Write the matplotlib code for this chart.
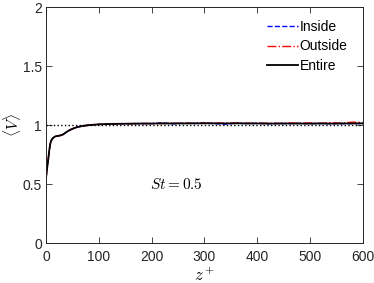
import numpy as np
import matplotlib.pyplot as plt

plt.rcParams['font.family'] = ['Liberation Sans', 'DejaVu Sans']
plt.rcParams['mathtext.fontset'] = 'cm'

# z+ positions
z = [0, 2, 4, 6, 8, 10, 13, 17, 22, 27, 32, 36, 40, 45, 50, 55, 60, 70, 80, 90,
     100, 120, 140, 160, 180, 200, 220, 240, 260, 280, 300, 320, 340, 360, 380,
     400, 420, 440, 460, 480, 500, 520, 540, 560, 580, 600]

v_entire = [0.55, 0.63, 0.70, 0.78, 0.84, 0.87, 0.89, 0.903, 0.908, 0.912, 0.92,
            0.932, 0.945, 0.958, 0.968, 0.977, 0.984, 0.993, 0.999, 1.003,
            1.006, 1.009, 1.011, 1.012, 1.013, 1.013, 1.014, 1.014, 1.014, 1.015, 1.015,
            1.015, 1.014, 1.015, 1.014, 1.014, 1.013, 1.013, 1.014, 1.013, 1.013,
            1.014, 1.013, 1.014, 1.014, 1.015]

v_inside = [0.55, 0.63, 0.70, 0.78, 0.84, 0.87, 0.89, 0.903, 0.908, 0.912, 0.92,
            0.932, 0.945, 0.958, 0.968, 0.977, 0.984, 0.993, 0.999, 1.003,
            1.006, 1.009, 1.011, 1.012, 1.013, 1.012, 1.02, 1.01, 1.016, 1.013, 1.018,
            1.012, 1.008, 1.016, 1.013, 1.015, 1.011, 1.014, 1.012, 1.015, 1.012,
            1.013, 1.011, 1.012, 1.013, 1.012]

v_outside = [0.55, 0.63, 0.70, 0.78, 0.84, 0.87, 0.89, 0.903, 0.908, 0.912, 0.92,
             0.932, 0.945, 0.958, 0.968, 0.977, 0.984, 0.993, 0.999, 1.003,
             1.006, 1.009, 1.011, 1.012, 1.013, 1.014, 1.014, 1.015, 1.016, 1.015, 1.016,
             1.017, 1.016, 1.018, 1.016, 1.015, 1.016, 1.014, 1.017, 1.016, 1.018,
             1.015, 1.02, 1.016, 1.025, 1.022]

fig = plt.figure(figsize=(3.74, 2.83), dpi=100)
ax = fig.add_axes([0.123, 0.141, 0.847, 0.834])

ax.axhline(1, color='k', ls=':', lw=1)
ax.plot(z, v_inside, 'b--', lw=1, label='Inside')
ax.plot(z, v_outside, 'r-.', lw=1, label='Outside')
ax.plot(z, v_entire, 'k-', lw=1.3, label='Entire')

ax.set_xlim(0, 600)
ax.set_ylim(0, 2)
ax.set_xticks([0, 100, 200, 300, 400, 500, 600])
ax.set_yticks([0, 0.5, 1, 1.5, 2])
ax.set_yticklabels(['0', '0.5', '1', '1.5', '2'])
ax.tick_params(direction='in', top=True, right=True, labelsize=10, length=4,
               width=0.6, colors='#262626', pad=3)
ax.tick_params(axis='x', pad=5)
for s in ax.spines.values():
    s.set_linewidth(0.7)
    s.set_color('#262626')

ax.set_xlabel(r'$z^+$', fontsize=12, labelpad=1)
ax.set_ylabel(r'$\langle V\rangle$', fontsize=11, labelpad=0)
ax.yaxis.set_label_coords(-0.072, 0.5)
ax.text(197, 0.5, r'$St=0.5$', fontsize=11, va='center')

ax.legend(loc='upper right', bbox_to_anchor=(0.992, 0.999), frameon=False,
          fontsize=10, handlelength=2.2, handletextpad=0.15, labelspacing=0.4,
          borderpad=0.4)

fig.savefig('out.png', dpi=100)
